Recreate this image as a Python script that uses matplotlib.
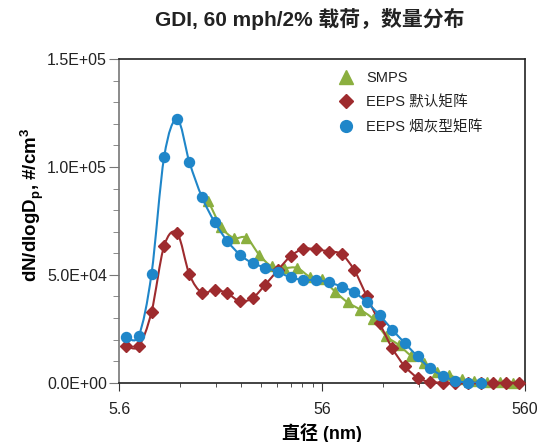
# GDI 60 mph/2% 载荷 数量分布：SMPS 与 EEPS 两种矩阵的比较

import numpy as np
import matplotlib.pyplot as plt
from matplotlib.path import Path
from matplotlib.patches import PathPatch
from matplotlib.lines import Line2D
from matplotlib.ticker import FixedLocator, FuncFormatter, NullFormatter

plt.rcParams['font.family'] = ['Liberation Sans', 'Noto Sans CJK SC']

# 粒径 (nm)
eeps_d = [6.04, 6.98, 8.06, 9.31, 10.8, 12.4, 14.3, 16.5, 19.1, 22.1, 25.5,
          29.4, 34.0, 39.2, 45.3, 52.3, 60.4, 69.8, 80.6, 93.1, 107.5, 124.1,
          143.3, 165.5, 191.1, 220.7, 254.8, 294.3, 339.8, 392.4, 453.2, 523.3]
smps_d = [15.4, 17.8, 20.5, 23.7, 27.4, 31.6, 36.5, 42.2, 48.7, 56.2, 64.9,
          75.0, 86.6, 100.0, 115.5, 133.4, 154.0, 177.8, 205.4, 237.1, 273.8,
          316.2, 365.2, 421.7, 487.0]

# dN/dlogDp (#/cm3)
smps = [84000, 72300, 67100, 67200, 59300, 53900, 53200, 53200, 49100, 48000,
        42200, 37200, 33800, 29500, 21800, 17600, 12500, 9100, 5100, 3500,
        1600, 700, 400, 200, 100]
eeps_default = [17100, 17000, 32800, 63500, 69200, 50200, 41700, 43200, 41400,
                37700, 39400, 45500, 52400, 58700, 62100, 61800, 60800, 59600,
                52200, 40000, 27700, 16100, 7600, 2400, 300, 100, 0, 0, 0, 0,
                0, 0]
eeps_soot = [21300, 21900, 50400, 104800, 122100, 102200, 86000, 74500, 65600,
             59200, 55300, 53400, 51300, 48800, 47600, 47600, 46500, 44600,
             42000, 37200, 31400, 24600, 18400, 12200, 6700, 3200, 900, 100, 0]

c_green = '#8BAF3F'
c_red = '#9E2B2E'
c_blue = '#1F86C9'


def smooth_path(x, y):
    # 平滑连线（类似 Excel 的平滑线），在 log x 空间计算控制点
    pts = np.column_stack([np.log10(x), np.asarray(y, dtype=float)])
    n = len(pts)
    verts = [pts[0]]
    codes = [Path.MOVETO]
    for i in range(n - 1):
        p0 = pts[max(i - 1, 0)]
        p1 = pts[i]
        p2 = pts[i + 1]
        p3 = pts[min(i + 2, n - 1)]
        verts += [p1 + (p2 - p0) / 6, p2 - (p3 - p1) / 6, p2]
        codes += [Path.CURVE4] * 3
    verts = np.array(verts)
    verts[:, 0] = 10**verts[:, 0]
    return Path(verts, codes)


fig = plt.figure(figsize=(5.53, 4.42), dpi=100)
ax = fig.add_axes([0.216, 0.134, 0.733, 0.7325])
ax.set_xscale('log')

series = [(smps_d, smps, c_green, '^', 7.5),
          (eeps_d, eeps_default, c_red, 'D', 5.8),
          (eeps_d[:len(eeps_soot)], eeps_soot, c_blue, 'o', 7.2)]
z = 2
for xs, ys, col, mk, ms in series:
    ax.add_patch(PathPatch(smooth_path(xs, ys), facecolor='none',
                           edgecolor=col, lw=1.5, zorder=z))
    ax.plot(xs, ys, ls='none', marker=mk, ms=ms, color=col, mec=col,
            zorder=z + 0.5, clip_on=False)
    z += 1

ax.set_xlim(5.6, 560)
ax.set_ylim(0, 150000)

ax.xaxis.set_major_locator(FixedLocator([5.6, 56, 560]))
ax.xaxis.set_major_formatter(FuncFormatter(lambda v, p: f'{v:g}'))
ax.xaxis.set_minor_locator(FixedLocator([5.6 * k * 10**e for e in (0, 1)
                                         for k in range(2, 10)]))
ax.xaxis.set_minor_formatter(NullFormatter())
ax.yaxis.set_major_locator(FixedLocator([0, 50000, 100000, 150000]))
ax.yaxis.set_minor_locator(FixedLocator(np.arange(0, 150001, 10000)))
ax.yaxis.set_major_formatter(FuncFormatter(lambda v, p: f'{v:.1E}'))

ax.tick_params(axis='both', which='major', labelsize=11.5, colors='#222222')
ax.tick_params(axis='x', which='major', length=6, color='#333333', pad=8)
ax.tick_params(axis='x', which='minor', length=3, color='#333333')
ax.tick_params(axis='y', which='major', length=7, color='#777777', pad=2)
ax.tick_params(axis='y', which='minor', length=4, color='#777777')

for s in ['top', 'right', 'bottom']:
    ax.spines[s].set_color('#222222')
    ax.spines[s].set_linewidth(1.2)
ax.spines['left'].set_color('#777777')
ax.spines['left'].set_linewidth(1.2)

ax.set_xlabel('直径 (nm)', fontsize=13, fontweight='bold', labelpad=4)
ax.set_ylabel('dN/dlogD$_\\mathregular{p}$, #/cm$^\\mathregular{3}$',
              fontsize=13.5, fontweight='bold')
ax.yaxis.set_label_coords(-0.182, 0.55)
fig.text(0.561, 0.958, 'GDI, 60 mph/2% 载荷，数量分布', ha='center',
         va='center', fontsize=15, fontweight='bold', color='#222222')

handles = [Line2D([], [], ls='none', marker='^', ms=10, color=c_green),
           Line2D([], [], ls='none', marker='D', ms=7, color=c_red),
           Line2D([], [], ls='none', marker='o', ms=8.5, color=c_blue)]
ax.legend(handles, ['SMPS', 'EEPS 默认矩阵', 'EEPS 烟灰型矩阵'],
          loc='upper left', bbox_to_anchor=(0.5, 1.004), frameon=False,
          fontsize=10.5, handletextpad=0.6, labelspacing=0.72,
          handlelength=1.5, labelcolor='#222222')

fig.savefig('out.png', dpi=100)
